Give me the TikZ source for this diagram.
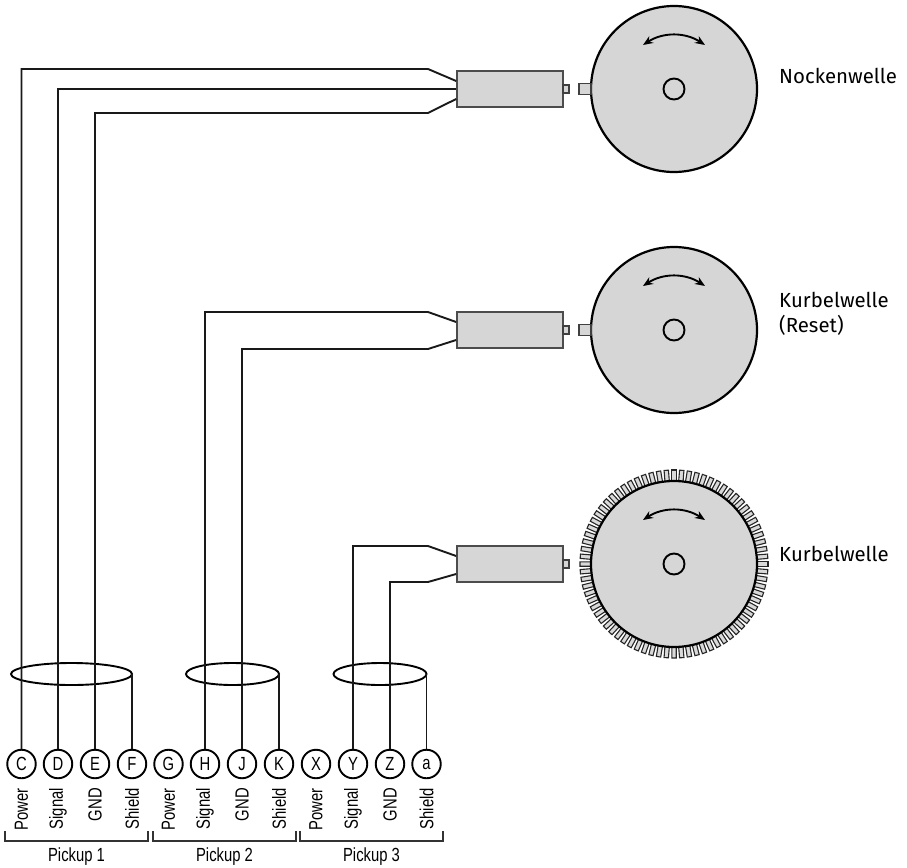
\documentclass[tikz,border=0pt]{standalone}
\usepackage{fontspec}
\setmainfont{Fira Sans}
\newfontfamily\narrowfont[FakeStretch=0.78]{Liberation Sans}
\usetikzlibrary{arrows.meta,calc,shapes.geometric}
\definecolor{partgray}{HTML}{D6D6D6}
\tikzset{
  wire/.style={line width=1.9pt,line join=miter,draw=black!90},
  pinnode/.style={circle,draw,line width=1.9pt,fill=white,minimum size=28.5pt,inner sep=0pt,font=\narrowfont\fontsize{19}{19}\selectfont},
  signalnode/.style={rotate=90,anchor=east,inner sep=0pt,font=\narrowfont\fontsize{19}{19}\selectfont},
  pickupnode/.style={inner sep=0pt,font=\narrowfont\fontsize{19}{19}\selectfont},
  cablenode/.style={ellipse,draw,line width=1.9pt,minimum height=22pt,inner sep=0pt,outer sep=0pt},
  sensornode/.style={rectangle,draw=black!70,line width=1.7pt,fill=partgray,minimum width=106pt,minimum height=36pt,inner sep=0pt},
  wheelnode/.style={circle,draw,line width=2.2pt,fill=partgray,minimum size=166pt,inner sep=0pt},
  hubnode/.style={circle,draw,line width=1.9pt,minimum size=21pt,inner sep=0pt},
  shaftnode/.style={inner sep=0pt,anchor=base west,font=\fontsize{20.4}{20.4}\selectfont},
  stub/.style={draw=black!75,line width=1.4pt,fill=partgray},
  tooth/.style={draw=black!85,line width=1.1pt,fill=white!85!black},
  turn/.style={line width=1.9pt,{Stealth[length=10pt,width=8pt]}-{Stealth[length=10pt,width=8pt]}}
}
\begin{document}
\begin{tikzpicture}[x=1pt,y=-1pt]
\useasboundingbox (0,0) rectangle (907,867);
% connector pins
\foreach \pinname/\pinx/\pintext/\pinrole in {
  C/21.5/C/Power,D/58/D/Signal,E/95/E/GND,F/132/F/Shield,
  G/168.5/G/Power,H/205/H/Signal,J/242/J/GND,K/279/K/Shield,
  X/316/X/Power,Y/353/Y/Signal,Z/390/Z/GND,a/426.5/a/Shield}{
  \node[pinnode] (\pinname) at (\pinx,764) {\pintext};
  \node[signalnode] (role\pinname) at (\pinx,788) {\pinrole};
}
% pickup brackets
\foreach \pickname/\xa/\xb/\picktext in {pickA/5/148/Pickup 1,pickB/153/296/Pickup 2,pickC/300/443/Pickup 3}{
  \draw[line width=1.9pt,black!80] (\xa,831) |- (\xb,841) -- (\xb,831);
  \node[pickupnode] (\pickname) at ({(\xa+\xb)/2},857) {\picktext};
}
% shields
\node[cablenode,minimum width=121pt] (cableA) at (71.5,674) {};
\node[cablenode,minimum width=93pt] (cableB) at (232.5,674) {};
\node[cablenode,minimum width=93pt] (cableC) at (380,674) {};
\draw[wire] (F.north) -- (cableA.east);
\draw[wire] (K.north) -- (cableB.east);
\draw[wire] (a.north) -- (cableC.east);
% sensors
\node[sensornode] (sensorA) at (510,89) {};
\node[sensornode] (sensorB) at (510,330) {};
\node[sensornode] (sensorC) at (510,564) {};
% wires
\coordinate (kneeC) at (428,69);
\coordinate (kneeD) at (428,89);
\coordinate (kneeE) at (428,113);
\coordinate (kneeH) at (428,312);
\coordinate (kneeJ) at (428,349);
\coordinate (kneeY) at (428,546);
\coordinate (kneeZ) at (428,582);
\draw[wire] (C.north) |- (kneeC) -- ($(sensorA.west)+(0,-8)$);
\draw[wire] (D.north) |- (kneeD) -- (sensorA.west);
\draw[wire] (E.north) |- (kneeE) -- ($(sensorA.west)+(0,10)$);
\draw[wire] (H.north) |- (kneeH) -- ($(sensorB.west)+(0,-8)$);
\draw[wire] (J.north) |- (kneeJ) -- ($(sensorB.west)+(0,10)$);
\draw[wire] (Y.north) |- (kneeY) -- ($(sensorC.west)+(0,-8)$);
\draw[wire] (Z.north) |- (kneeZ) -- ($(sensorC.west)+(0,10)$);
% teeth of the lower wheel
\foreach \n in {0,...,75}{
  \draw[tooth,shift={(674,564)},rotate=\n*4.7368] (83,-2.2) rectangle (94,2.2);
}
% wheels
\foreach \wheelname/\wheely in {wheelA/89,wheelB/330,wheelC/564}{
  \draw[stub] (563,\wheely-4) rectangle (569,\wheely+4);
  \node[wheelnode] (\wheelname) at (674,\wheely) {};
  \node[hubnode] (hub\wheelname) at (\wheelname.center) {};
  \draw[turn] (643,\wheely-44) .. controls (663,\wheely-57) and (685,\wheely-57) .. (705,\wheely-44);
}
\draw[stub] (579,83.5) rectangle (591,94.5);
\draw[stub] (579,324.5) rectangle (591,335.5);
% shaft labels
\node[shaftnode] (shaftA) at (779,83) {Nockenwelle};
\node[shaftnode] (shaftB) at (779,307) {Kurbelwelle};
\node[shaftnode] (shaftBb) at (779,332) {(Reset)};
\node[shaftnode] (shaftC) at (779,561) {Kurbelwelle};
\end{tikzpicture}
\end{document}
